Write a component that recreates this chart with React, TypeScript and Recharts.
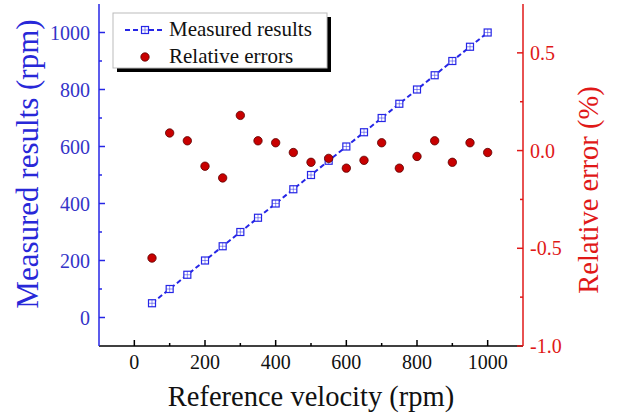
import React from 'react';
import { ComposedChart, Line, Scatter, XAxis, YAxis } from 'recharts';

// reference velocity (rpm)
const velocity = [50, 100, 150, 200, 250, 300, 350, 400, 450, 500, 550, 600, 650, 700, 750, 800, 850, 900, 950, 1000];
// measured speed (rpm)
const measured = [50, 100, 150, 200, 250, 300, 350, 400, 450, 500, 550, 600, 650, 700, 750, 800, 850, 900, 950, 1000];
// relative error (%)
const relError = [-0.55, 0.09, 0.05, -0.08, -0.14, 0.18, 0.05, 0.04, -0.01, -0.06, -0.04, -0.09, -0.05, 0.04, -0.09, -0.03, 0.05, -0.06, 0.04, -0.01];

const xTicks = [0, 100, 200, 300, 400, 500, 600, 700, 800, 900, 1000];
const leftTicks = [0, 100, 200, 300, 400, 500, 600, 700, 800, 900, 1000];
const rightTicks = [-1, -0.75, -0.5, -0.25, 0, 0.25, 0.5];

const BLUE = '#2626e6';
const RED = '#e01818';
const FONT = '"Liberation Serif", "Times New Roman", serif';

const data = velocity.map((v, i) => ({ x: v, measured: measured[i], err: relError[i] }));

const XTick = ({ x, y, payload }: any) => {
  const major = payload.value % 200 === 0;
  return (
    <g>
      <line x1={x} y1={y} x2={x} y2={y - (major ? 6 : 3)} stroke="#000" strokeWidth={1.5} />
      {major && (
        <text x={x} y={y + 23} textAnchor="middle" fontFamily={FONT} fontSize={20} fill="#111">
          {payload.value}
        </text>
      )}
    </g>
  );
};

const LeftTick = ({ x, y, payload }: any) => {
  const major = payload.value % 200 === 0;
  return (
    <g>
      <line x1={x} y1={y} x2={x + (major ? 6 : 3)} y2={y} stroke={BLUE} strokeWidth={1.5} />
      {major && (
        <text x={x - 9} y={y + 7} textAnchor="end" fontFamily={FONT} fontSize={20} fill="#3434c8">
          {payload.value}
        </text>
      )}
    </g>
  );
};

const RightTick = ({ x, y, payload }: any) => {
  const major = Number.isInteger(payload.value * 2);
  return (
    <g>
      <line x1={x} y1={y} x2={x - (major ? 6 : 3)} y2={y} stroke={RED} strokeWidth={1.5} />
      {major && (
        <text x={x + 7} y={y + 7} textAnchor="start" fontFamily={FONT} fontSize={20} fill={RED}>
          {payload.value.toFixed(1)}
        </text>
      )}
    </g>
  );
};

const SquareDot = ({ cx, cy }: any) => {
  if (cx == null || cy == null) return null;
  return (
    <g>
      <rect x={cx - 3.5} y={cy - 3.5} width={7} height={7} fill="#fff" stroke={BLUE} strokeWidth={1.2} />
      <line x1={cx - 3.5} y1={cy} x2={cx + 3.5} y2={cy} stroke={BLUE} strokeWidth={0.5} />
      <line x1={cx} y1={cy - 3.5} x2={cx} y2={cy + 3.5} stroke={BLUE} strokeWidth={0.5} />
    </g>
  );
};

const RedDot = ({ cx, cy }: any) => <circle cx={cx} cy={cy} r={4.2} fill="#c80000" stroke="#5a0000" strokeWidth={0.8} />;

export default function App() {
  return (
    <div style={{ position: 'absolute', left: 0, top: 0, width: 620, height: 418, background: '#fff' }}>
      <ComposedChart width={620} height={418} data={data} margin={{ top: 4, right: 0, bottom: 0, left: 0 }}>
        <XAxis
          xAxisId="bottom"
          dataKey="x"
          type="number"
          domain={[-100, 1100]}
          ticks={xTicks}
          height={72}
          tickSize={0}
          tickMargin={0}
          tickLine={false}
          tick={XTick}
          axisLine={{ stroke: '#000', strokeWidth: 1.5 }}
          interval={0}
        />
        <XAxis
          xAxisId="top"
          orientation="top"
          dataKey="x"
          type="number"
          domain={[-100, 1100]}
          height={0}
          tick={false}
          tickLine={false}
          axisLine={{ stroke: '#000', strokeWidth: 1.5 }}
        />
        <YAxis
          yAxisId="left"
          type="number"
          domain={[-100, 1100]}
          ticks={leftTicks}
          width={99}
          tickSize={0}
          tickMargin={0}
          tickLine={false}
          tick={LeftTick}
          axisLine={{ stroke: BLUE, strokeWidth: 1.5 }}
          interval={0}
        />
        <YAxis
          yAxisId="right"
          orientation="right"
          type="number"
          domain={[-1, 0.75]}
          ticks={rightTicks}
          width={97}
          tickSize={0}
          tickMargin={0}
          tickLine={false}
          tick={RightTick}
          axisLine={{ stroke: RED, strokeWidth: 1.5 }}
          interval={0}
        />
        <Line
          xAxisId="bottom"
          yAxisId="left"
          dataKey="measured"
          stroke={BLUE}
          strokeWidth={2}
          strokeDasharray="5 3"
          dot={SquareDot}
          isAnimationActive={false}
        />
        <Scatter xAxisId="bottom" yAxisId="right" dataKey="err" shape={RedDot} isAnimationActive={false} />
      </ComposedChart>
      <svg width={620} height={418} style={{ position: 'absolute', left: 0, top: 0, pointerEvents: 'none' }}>
        {/* legend */}
        <rect x={117} y={17} width={214} height={55} fill="#000" />
        <rect x={113} y={13} width={214} height={55} fill="#fff" stroke="#bbb" strokeWidth={1} />
        <line x1={125} y1={30} x2={165} y2={30} stroke={BLUE} strokeWidth={2} strokeDasharray="5 3" />
        <SquareDot cx={145} cy={30} />
        <text x={169} y={36} fontFamily={FONT} fontSize={21} fill="#111">Measured results</text>
        <RedDot cx={145} cy={57} />
        <text x={169} y={63} fontFamily={FONT} fontSize={21} fill="#111">Relative errors</text>
        {/* axis titles */}
        <text x={311} y={406} textAnchor="middle" fontFamily={FONT} fontSize={28.5} fill="#111">
          Reference velocity (rpm)
        </text>
        <text
          x={0}
          y={0}
          transform="translate(38 164) rotate(-90)"
          textAnchor="middle"
          fontFamily={FONT}
          fontSize={31}
          fill="#2828d8"
        >
          Measured results (rpm)
        </text>
        <text
          x={0}
          y={0}
          transform="translate(598 190) rotate(-90)"
          textAnchor="middle"
          fontFamily={FONT}
          fontSize={28.5}
          fill={RED}
        >
          Relative error (%)
        </text>
      </svg>
    </div>
  );
}
